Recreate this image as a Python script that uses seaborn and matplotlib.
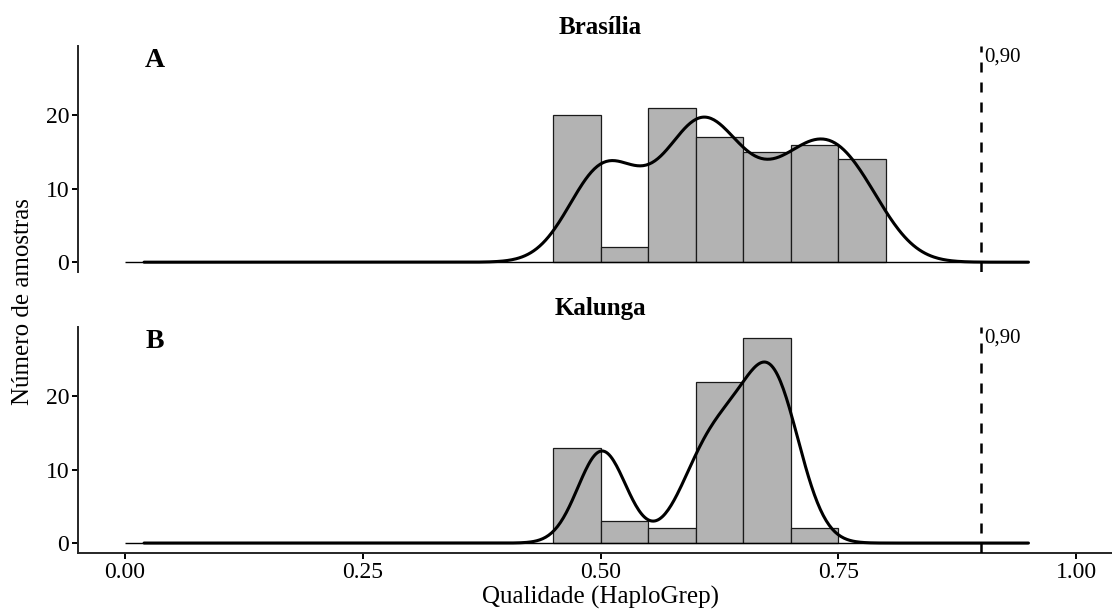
import numpy as np
import pandas as pd
import matplotlib
matplotlib.use("Agg")
import matplotlib.pyplot as plt
import seaborn as sns

# HaploGrep quality scores and the number of samples sharing each score
brasilia_scores = [0.50, 0.52, 0.54, 0.555, 0.60, 0.605, 0.615, 0.64,
                   0.66, 0.70, 0.72, 0.74, 0.76, 0.78]
brasilia_counts = [20, 1, 1, 6, 15, 7, 5, 5,
                   7, 8, 8, 8, 7, 7]

kalunga_scores = [0.50, 0.505, 0.52, 0.585, 0.595, 0.605, 0.63, 0.645,
                  0.67, 0.69, 0.71]
kalunga_counts = [13, 2, 1, 1, 1, 8, 8, 6,
                  14, 14, 2]

panel_titles = ["Brasília", "Kalunga"]
panel_letters = ["A", "B"]
threshold = 0.90
threshold_label = "0,90"
x_ticks = [0.00, 0.25, 0.50, 0.75, 1.00]
x_tick_labels = ["0.00", "0.25", "0.50", "0.75", "1.00"]
y_ticks = [0, 10, 20]

sns.set_style("ticks")
plt.rcParams["font.family"] = ["Liberation Serif", "DejaVu Serif"]
plt.rcParams["axes.linewidth"] = 1.4
plt.rcParams["text.color"] = "black"
plt.rcParams["axes.labelcolor"] = "black"
plt.rcParams["axes.titlecolor"] = "black"

fig = plt.figure(figsize=(11.12, 6.15), dpi=100)
ax_top = fig.add_axes([0.0697, 0.557, 0.9407, 0.3675])
ax_bot = fig.add_axes([0.0697, 0.1003, 0.9407, 0.3675])

datasets = [
    (brasilia_scores, brasilia_counts, 0.035),
    (kalunga_scores, kalunga_counts, 0.025),
]
# right-closed 0.05-wide bins: (0.45, 0.50], (0.50, 0.55], ...
bin_edges = np.linspace(0.45, 0.80, 8) + 1e-6

for i, (ax, (scores, counts, bw)) in enumerate(zip([ax_top, ax_bot], datasets)):
    df = pd.DataFrame({"score": scores, "n": counts})
    # gaussian bandwidth expressed as a factor of the weighted spread
    sd = float(np.sqrt(np.cov(df["score"], aweights=df["n"])))
    edges = [float(e) for e in bin_edges if e <= df["score"].max() + 0.05]
    sns.histplot(
        data=df, x="score", weights="n", bins=edges, stat="count",
        kde=True, color="#b3b3b3", alpha=1.0, edgecolor="#1a1a1a",
        linewidth=0.9, ax=ax,
        kde_kws=dict(bw_method=bw / sd, cut=100, clip=(0.02, 0.95), gridsize=600),
        line_kws=dict(lw=2.2),
    )
    kde_line = ax.lines[-1]
    kde_line.set_color("black")
    kde_line.set_zorder(4)

    ax.hlines(0, 0.0, 0.95, color="black", lw=1.0, zorder=3)
    ax.axvline(threshold, color="black", lw=1.8, ls=(0, (4, 4)), zorder=5)
    ax.text(threshold + 0.004, 27.9, threshold_label, ha="left", va="center",
            fontsize=15)
    ax.text(0.0315, 27.5, panel_letters[i], ha="center", va="center",
            fontsize=20, fontweight="bold")

    ax.set_xlim(-0.05, 1.05)
    ax.set_ylim(-1.4, 29.4)
    ax.set_yticks(y_ticks)
    ax.set_title(panel_titles[i], fontsize=18, fontweight="bold", pad=9)
    ax.set_ylabel("")
    ax.tick_params(axis="both", labelsize=17, length=4, width=1.4,
                   colors="black", pad=2)
    sns.despine(ax=ax)

# upper panel carries no x axis
ax_top.spines["bottom"].set_visible(False)
ax_top.set_xticks([])
ax_top.set_xlabel("")

ax_bot.set_xticks(x_ticks)
ax_bot.set_xticklabels(x_tick_labels)
ax_bot.set_xlabel("Qualidade (HaploGrep)", fontsize=18, labelpad=2)

fig.text(0.021, 0.51, "Número de amostras", rotation=90, ha="center",
         va="center", fontsize=18)

fig.savefig("out.png", dpi=100)
